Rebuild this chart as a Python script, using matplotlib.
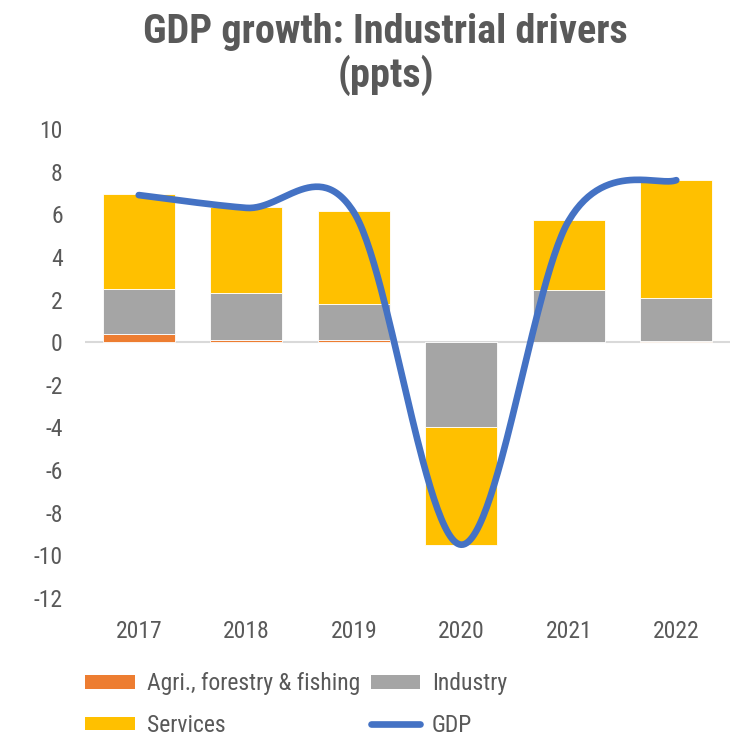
import numpy as np
import matplotlib
matplotlib.use("Agg")
import matplotlib.pyplot as plt
from matplotlib import font_manager
from matplotlib.patches import Patch
from matplotlib.lines import Line2D

years = ["2017", "2018", "2019", "2020", "2021", "2022"]
agri = [0.4, 0.1, 0.1, 0.0, 0.0, 0.05]
industry = [2.1, 2.2, 1.7, -4.0, 2.45, 2.0]
services = [4.45, 4.05, 4.35, -5.5, 3.3, 5.55]
gdp = [6.9, 6.3, 6.1, -9.5, 5.7, 7.6]

C_AGRI = "#ED7D31"
C_IND = "#A5A5A5"
C_SERV = "#FFC000"
C_GDP = "#4472C4"
TXT = "#595959"

# pick a narrow sans if one is installed
installed = {f.name for f in font_manager.fontManager.ttflist}
stretchy = {(f.name, f.stretch) for f in font_manager.fontManager.ttflist}
narrow = None
for cand in ["Liberation Sans Narrow", "Roboto Condensed", "Open Sans Condensed",
             "Noto Sans Condensed", "DejaVu Sans Condensed", "Arial Narrow"]:
    if cand in installed:
        narrow = cand
        break
stretch = "normal"
if narrow is None:
    for name, st in stretchy:
        if str(st) in ("condensed", "semi-condensed", "500", "600") or "ondens" in str(st):
            narrow = name
            stretch = st
            break
FAM = [narrow] if narrow else []
FAM += ["Liberation Sans", "DejaVu Sans"]
plt.rcParams["font.family"] = FAM
plt.rcParams["font.stretch"] = stretch
plt.rcParams["axes.unicode_minus"] = False
NARROW = narrow is not None
tick_fs = 17 if NARROW else 14.5
GDP_LW = 4.8


def smooth(xs, ys, n=60):
    """Catmull-Rom style smoothing through every point."""
    xs = np.asarray(xs, float)
    ys = np.asarray(ys, float)
    P = np.column_stack([xs, ys])
    P = np.vstack([P[0], P, P[-1]])
    out = []
    t = np.linspace(0, 1, n)
    for i in range(1, len(P) - 2):
        p0, p1, p2, p3 = P[i - 1], P[i], P[i + 1], P[i + 2]
        c1 = p1 + (p2 - p0) / 6.0
        c2 = p2 - (p3 - p1) / 6.0
        seg = ((1 - t) ** 3)[:, None] * p1 + (3 * (1 - t) ** 2 * t)[:, None] * c1 \
            + (3 * (1 - t) * t ** 2)[:, None] * c2 + (t ** 3)[:, None] * p2
        out.append(seg if i == 1 else seg[1:])
    s = np.vstack(out)
    return s[:, 0], s[:, 1]


fig = plt.figure(figsize=(7.39, 7.39), dpi=100)
ax = fig.add_axes([85 / 739, 1 - 598 / 739, (730 - 85) / 739, (598 - 129) / 739])

x = np.arange(len(years))
w = 0.67
agri_a = np.array(agri)
ind_a = np.array(industry)
serv_a = np.array(services)

# positive and negative parts stack separately
pos_base = np.zeros(len(x))
neg_base = np.zeros(len(x))
for vals, col in [(agri_a, C_AGRI), (ind_a, C_IND), (serv_a, C_SERV)]:
    bottoms = np.where(vals >= 0, pos_base, neg_base)
    ax.bar(x, vals, w, bottom=bottoms, color=col, edgecolor="white", linewidth=0.6, zorder=2)
    pos_base = pos_base + np.where(vals >= 0, vals, 0)
    neg_base = neg_base + np.where(vals < 0, vals, 0)

ax.axhline(0, color="#D9D9D9", lw=1.5, zorder=1)

sx, sy = smooth(x, gdp)
ax.plot(sx, sy, color=C_GDP, lw=GDP_LW, solid_capstyle="round", zorder=3)

ax.set_xlim(-0.5, 5.5)
ax.set_ylim(-12, 10)
ax.set_yticks(np.arange(-12, 11, 2))
ax.set_xticks(x)
ax.set_xticklabels(years)
for s in ax.spines.values():
    s.set_visible(False)
ax.tick_params(axis="both", length=0, labelsize=tick_fs, labelcolor=TXT)
ax.tick_params(axis="x", pad=16)
ax.tick_params(axis="y", pad=16)

fig.text(0.522, 0.982, "GDP growth: Industrial drivers\n(ppts)", ha="center", va="top",
         fontsize=29 if NARROW else 24, fontweight="bold", color=TXT, linespacing=1.1)

handles = [
    Patch(facecolor=C_AGRI, label="Agri., forestry & fishing"),
    Patch(facecolor=C_SERV, label="Services"),
    Patch(facecolor=C_IND, label="Industry"),
    Line2D([0], [0], color=C_GDP, lw=GDP_LW, solid_capstyle="round", label="GDP"),
]
leg = fig.legend(handles=handles, ncol=2, loc="upper left", bbox_to_anchor=(64 / 739, 1 - 651 / 739),
                 frameon=False, fontsize=tick_fs, handlelength=2.1 if NARROW else 2.4,
                 handleheight=0.5, columnspacing=0.45, labelspacing=0.78, handletextpad=0.5)
for t in leg.get_texts():
    t.set_color(TXT)

fig.savefig("out.png", dpi=100)
